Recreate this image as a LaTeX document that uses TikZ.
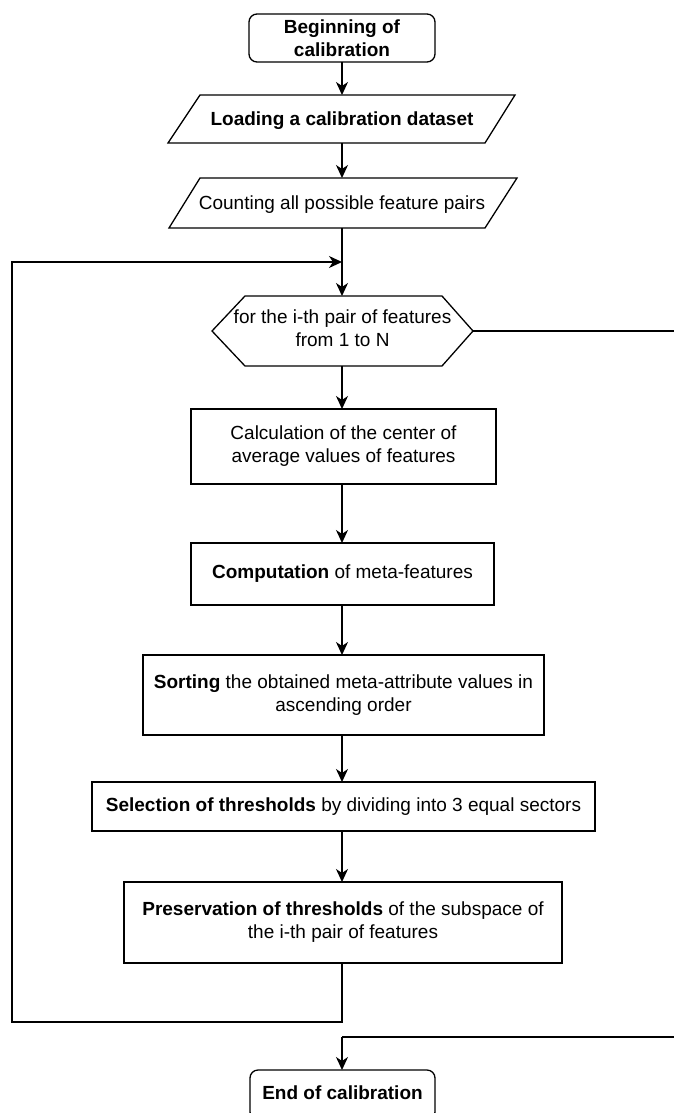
\documentclass[tikz,border=0pt]{standalone}
\usepackage{fontspec}
\setmainfont{Liberation Sans}
\usetikzlibrary{arrows.meta}
\begin{document}
\begin{tikzpicture}[x=1pt,y=-1pt,
  every node/.style={font=\fontsize{19}{23}\selectfont, align=center, inner sep=0pt, outer sep=0pt},
  box/.style={draw, line width=1.3pt},
  term/.style={draw, line width=1.3pt, rounded corners=8pt},
  lbl/.style={},
  conn/.style={line width=1.3pt},
  arr/.style={line width=1.3pt, -{Stealth[length=13pt,width=12pt,inset=4pt]}}
]
\useasboundingbox (0,0) rectangle (673,1113);
% start
\node[term, minimum width=186pt, minimum height=48pt] (start) at (342,38) {\textbf{Beginning of}\\\textbf{calibration}};
% parallelogram 1
\draw[line width=1.3pt] (200,95) -- (515,95) -- (485,143) -- (168,143) -- cycle;
\node[lbl, minimum width=280pt, minimum height=48pt] (load) at (342,119) {};
\node at (342,121) {\textbf{Loading a calibration dataset}};
% parallelogram 2
\draw[line width=1.3pt] (200,178) -- (517,178) -- (485,228) -- (169,228) -- cycle;
\node[lbl, minimum width=280pt, minimum height=50pt] (count) at (342,203) {};
\node at (342,205) {Counting all possible feature pairs};
% hexagon
\draw[line width=1.3pt] (212,331) -- (245,296) -- (442,296) -- (473,331) -- (442,366) -- (245,366) -- cycle;
\node[lbl, minimum width=261pt, minimum height=70pt] (loop) at (342.5,331) {};
\node at (342.5,328) {for the i-th pair of features\\from 1 to N};
% process boxes
\node[box, minimum width=305pt, minimum height=75pt] (calc) at (343.5,446.5) {Calculation of the center of\\average values of features};
\node[box, minimum width=303pt, minimum height=62pt] (comp) at (342.5,574) {\textbf{Computation} of meta-features};
\node[box, minimum width=401pt, minimum height=80pt] (sort) at (343.5,695) {\textbf{Sorting} the obtained meta-attribute values in\\ascending order};
\node[box, minimum width=503pt, minimum height=49pt] (sel) at (343.5,806.5) {\textbf{Selection of thresholds} by dividing into 3 equal sectors};
\node[box, minimum width=438pt, minimum height=81pt] (pres) at (343,922.5) {\textbf{Preservation of thresholds} of the subspace of\\the i-th pair of features};
% end
\node[term, minimum width=185pt, minimum height=50pt] (stop) at (342.5,1095) {};
\node (stoptxt) at (342.5,1093) {\textbf{End of calibration}};
% coordinates
\coordinate (merge) at (342,262);
\coordinate (lb) at (342,1022);
\coordinate (lbl2) at (12,1022);
\coordinate (lt) at (12,262);
\coordinate (rexit) at (676,331);
\coordinate (rdown) at (676,1037);
\coordinate (eturn) at (342,1037);
% connectors
\draw[arr] (start.south) -- (load.north -| start.south);
\draw[arr] (load.south) -- (count.north);
\draw[arr] (count.south -| merge) -- (loop.north -| merge);
\draw[arr] (loop.south -| merge) -- (calc.north -| merge);
\draw[arr] (calc.south -| merge) -- (comp.north -| merge);
\draw[arr] (comp.south -| merge) -- (sort.north -| merge);
\draw[arr] (sort.south -| merge) -- (sel.north -| merge);
\draw[arr] (sel.south -| merge) -- (pres.north -| merge);
\draw[arr] (pres.south -| merge) -- (lb) -- (lbl2) -- (lt) -- (merge);
\draw[conn] (loop.east) -- (rexit) -- (rdown) -- (eturn);
\draw[arr] (eturn) -- (stop.north -| eturn);
\end{tikzpicture}
\end{document}
